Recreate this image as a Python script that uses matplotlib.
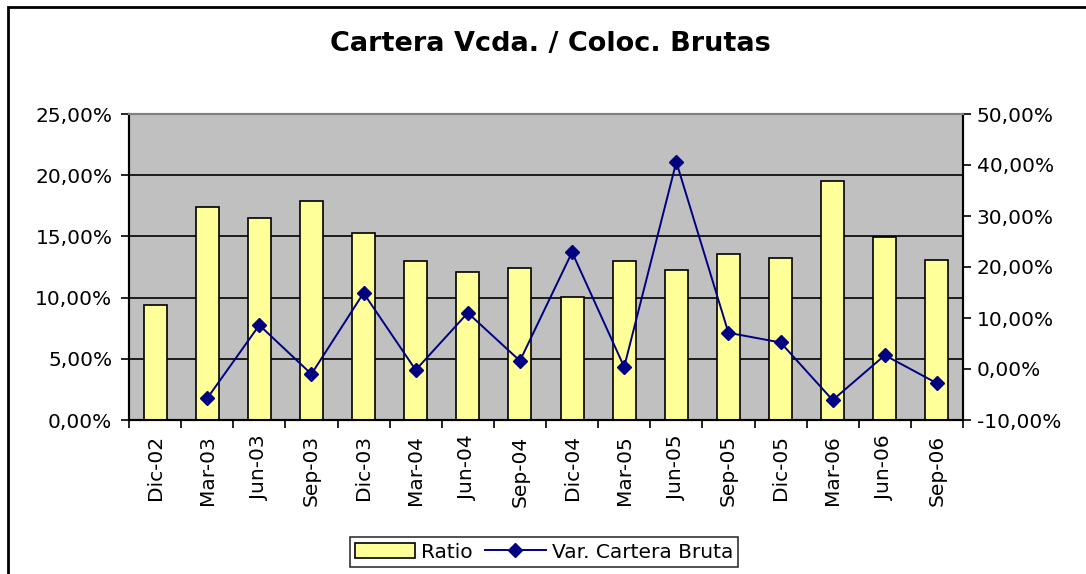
import matplotlib
matplotlib.use("Agg")
import matplotlib.pyplot as plt
from matplotlib.patches import Rectangle
from matplotlib.ticker import FuncFormatter, FixedLocator
import numpy as np

# datos
periodos = ['Dic-02', 'Mar-03', 'Jun-03', 'Sep-03', 'Dic-03', 'Mar-04', 'Jun-04', 'Sep-04',
            'Dic-04', 'Mar-05', 'Jun-05', 'Sep-05', 'Dic-05', 'Mar-06', 'Jun-06', 'Sep-06']
ratio = [9.4, 17.4, 16.5, 17.9, 15.3, 13.0, 12.1, 12.4,
         10.05, 13.0, 12.25, 13.6, 13.25, 19.55, 14.95, 13.1]
var_cartera = [np.nan, -5.75, 8.6, -1.0, 14.9, -0.2, 11.0, 1.6,
               22.9, 0.4, 40.6, 7.1, 5.2, -6.1, 2.7, -2.8]

plt.rcParams['font.family'] = 'DejaVu Sans'
tick_fs = 14.5

fig = plt.figure(figsize=(10.86, 5.74), dpi=100)
fig.patch.set_facecolor('white')
ax = fig.add_axes([129/1086, 1 - 420/574, (963 - 129)/1086, (420 - 114)/574])
ax2 = ax.twinx()

x = np.arange(len(periodos))
bars = ax.bar(x, ratio, width=0.44, color='#FFFF99', edgecolor='black', linewidth=1.2,
              label='Ratio', zorder=3)
ax.set_facecolor('#C0C0C0')
ax.set_xlim(-0.5, len(periodos) - 0.5)
ax.set_ylim(0, 25)
ax.set_yticks([0, 5, 10, 15, 20, 25])
ax.yaxis.set_major_formatter(FuncFormatter(lambda v, p: ('%.2f%%' % v).replace('.', ',')))
ax.grid(axis='y', color='black', linewidth=1.2, zorder=0)
ax.set_axisbelow(True)

# ticks entre categorias
ax.set_xticks(x)
ax.set_xticklabels(periodos, rotation=90, fontsize=tick_fs)
ax.tick_params(axis='x', length=0, pad=11)
ax.xaxis.set_minor_locator(FixedLocator(np.arange(-0.5, len(periodos), 1)))
ax.tick_params(axis='x', which='minor', length=6, width=1.2, direction='out')
ax.tick_params(axis='y', length=6, width=1.2, labelsize=tick_fs, direction='out', pad=6)

line, = ax2.plot(x, var_cartera, color='#000080', linewidth=1.4, marker='D', markersize=7,
                 label='Var. Cartera Bruta', zorder=4)
ax2.set_ylim(-10, 50)
ax2.set_yticks([-10, 0, 10, 20, 30, 40, 50])
ax2.yaxis.set_major_formatter(FuncFormatter(lambda v, p: ('%.2f%%' % v).replace('.', ',')))
ax2.tick_params(axis='y', length=6, width=1.2, labelsize=tick_fs, direction='out', pad=4)

for a in (ax, ax2):
    for s in ('left', 'right', 'bottom'):
        a.spines[s].set_color('black')
        a.spines[s].set_linewidth(1.5)
    a.spines['top'].set_color('#808080')
    a.spines['top'].set_linewidth(1.5)

fig.text(0.507, 0.923, 'Cartera Vcda. / Coloc. Brutas', ha='center', va='center',
         fontsize=19.5, fontweight='bold')

leg = fig.legend([bars, line], ['Ratio', 'Var. Cartera Bruta'], loc='center',
                 bbox_to_anchor=(544/1086, 1 - 552/574), ncol=2, fontsize=tick_fs,
                 frameon=True, fancybox=False, borderpad=0.25, handlelength=3.0,
                 handletextpad=0.3, columnspacing=0.6, borderaxespad=0)
leg.get_frame().set_edgecolor('black')
leg.get_frame().set_linewidth(1.2)

# marco del grafico
fig.patches.append(Rectangle((8/1086, -0.1), 1.2, 1.1 - 7/574, transform=fig.transFigure,
                             fill=False, edgecolor='black', linewidth=2))

fig.savefig('out.png', dpi=100)
